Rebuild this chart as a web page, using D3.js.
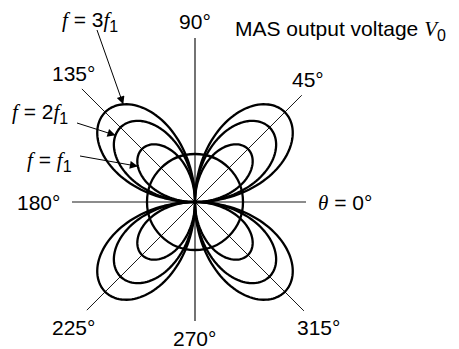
<!DOCTYPE html>
<html>
<head>
<meta charset="utf-8">
<script src="https://cdn.jsdelivr.net/npm/d3@7"></script>
<style>
  html, body { margin: 0; padding: 0; background: #fff; }
  svg { display: block; }
  text { font-family: "Liberation Sans", Arial, Helvetica, sans-serif; font-size: 21px; fill: #000; }
  .it { font-family: "Liberation Serif", "Times New Roman", serif; font-style: italic; }
</style>
</head>
<body>
<svg id="chart" width="459" height="349"></svg>
<script>
// Directional response of the MAS output voltage for three excitation frequencies
const seriesNames = ["f1", "2f1", "3f1"];
const lobePeaks = [0.59, 0.83, 1.0];          // peak output (relative) along the 45° diagonals
const circleLevel = 0.378;                     // isotropic reference level
const spokeAngles = [0, 45, 90, 135, 180, 225, 270, 315];
const spokeLabels = ["θ = 0°", "45°", "90°", "135°", "180°", "225°", "270°", "315°"];
const arrowAngles = [148, 140, 126.3];         // where each label arrow meets its curve

// layout
const cx = 195, cy = 202;
const spokeLen = [111, 151, 164, 160, 123, 153, 119, 154];
const labelPos = [
  [318, 210, "start"], [292, 87, "start"], [195, 29, "middle"], [52, 81, "start"],
  [17, 210, "start"], [52, 335, "start"], [173, 346, "start"], [297, 335, "start"]
];
const freqLabelPos = [[27, 167], [12, 119], [62, 27]];
const arrowStart = [[80, 156], [77, 123], [97, 30]];

const svg = d3.select("#chart");
const r = d3.scaleLinear().domain([0, 1]).range([0, 127]);
const rad = d => d * Math.PI / 180;
const toXY = (deg, v) => [cx + r(v) * Math.cos(rad(deg)), cy - r(v) * Math.sin(rad(deg))];

// spokes
svg.append("g").selectAll("line").data(spokeAngles).join("line")
  .attr("x1", cx).attr("y1", cy)
  .attr("x2", (d, i) => cx + spokeLen[i] * Math.cos(rad(d)))
  .attr("y2", (d, i) => cy - spokeLen[i] * Math.sin(rad(d)))
  .attr("stroke", d => d % 180 === 0 ? "#666" : "#000")
  .attr("stroke-width", d => d % 180 === 0 ? 1.4 : (d % 90 === 0 ? 1.1 : 0.9));

// reference circle
svg.append("circle").attr("cx", cx).attr("cy", cy).attr("r", r(circleLevel))
  .attr("fill", "none").attr("stroke", "#000").attr("stroke-width", 2.3);

// four-lobed response patterns  V ∝ |sin 2θ|
const thetas = d3.range(0, 361, 1);
const radial = d3.lineRadial()
  .angle(d => Math.PI / 2 - rad(d.t))
  .radius(d => r(d.v));
svg.append("g").attr("transform", `translate(${cx},${cy})`)
  .selectAll("path").data(lobePeaks).join("path")
  .attr("d", p => radial(thetas.map(t => ({ t, v: p * Math.abs(Math.sin(2 * rad(t))) }))))
  .attr("fill", "none").attr("stroke", "#000").attr("stroke-width", 2.3)
  .attr("stroke-linejoin", "round");

// spoke labels
const lab = svg.append("g");
spokeLabels.forEach((s, i) => {
  const t = lab.append("text").attr("x", labelPos[i][0]).attr("y", labelPos[i][1])
    .attr("text-anchor", labelPos[i][2]);
  if (s.startsWith("θ")) {
    t.append("tspan").attr("class", "it").text("θ");
    t.append("tspan").text(s.slice(1));
  } else t.text(s);
});

// title
const title = svg.append("text").attr("x", 235).attr("y", 36).attr("font-size", 22);
title.append("tspan").text("MAS output voltage ");
title.append("tspan").attr("class", "it").text("V");
title.append("tspan").attr("dy", 5).attr("font-size", 16).text("0");

// frequency labels with arrows
svg.append("defs").append("marker").attr("id", "head")
  .attr("viewBox", "0 0 10 10").attr("refX", 10).attr("refY", 5)
  .attr("markerWidth", 13).attr("markerHeight", 8).attr("markerUnits", "userSpaceOnUse")
  .attr("orient", "auto")
  .append("path").attr("d", "M0,0L10,5L0,10z").attr("fill", "#000");

seriesNames.forEach((name, i) => {
  const [lx, ly] = freqLabelPos[i];
  const t = svg.append("text").attr("x", lx).attr("y", ly);
  t.append("tspan").attr("class", "it").text("f");
  t.append("tspan").text(" = " + (name.startsWith("f") ? "" : name[0]));
  t.append("tspan").attr("class", "it").text("f");
  t.append("tspan").attr("dy", 5).attr("font-size", 16).text("1");
  const a = arrowAngles[i];
  const tip = toXY(a, lobePeaks[i] * Math.abs(Math.sin(2 * rad(a))));
  svg.append("line").attr("x1", arrowStart[i][0]).attr("y1", arrowStart[i][1])
    .attr("x2", tip[0]).attr("y2", tip[1])
    .attr("stroke", "#000").attr("stroke-width", 1)
    .attr("marker-end", "url(#head)");
});
</script>
</body>
</html>
